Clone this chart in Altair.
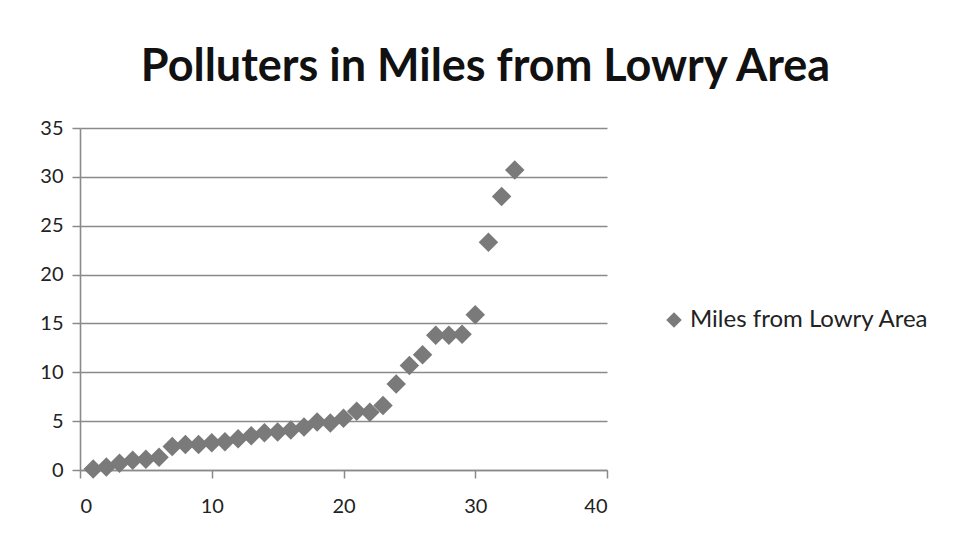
import altair as alt
import pandas as pd

rank = list(range(1, 34))
miles = [0.1, 0.3, 0.7, 1.0, 1.1, 1.3, 2.4, 2.6, 2.6, 2.8, 2.9, 3.2, 3.5, 3.8, 3.9, 4.1,
         4.4, 4.9, 4.8, 5.3, 6.0, 5.9, 6.6, 8.8, 10.7, 11.8, 13.8, 13.8, 13.9, 15.9,
         23.3, 28.0, 30.7]
series = ["Miles from Lowry Area"] * len(rank)
x_ticks = [0, 10, 20, 30, 40]
y_ticks = [0, 5, 10, 15, 20, 25, 30, 35]

df = pd.DataFrame({"x": rank, "y": miles, "series": series})

FONT = "Lato"
GRID = "#8a8a8a"

chart = alt.Chart(df).mark_point(
    shape="diamond", filled=True, size=380, opacity=1
).encode(
    x=alt.X("x:Q", scale=alt.Scale(domain=[0, 40], nice=False, zero=True),
            axis=alt.Axis(values=x_ticks, title=None, grid=False, tickSize=8,
                          labelPadding=18, labelFontSize=20, labelFont=FONT,
                          labelColor="#222", domainColor=GRID, tickColor=GRID,
                          domainWidth=1.5, tickWidth=1.5)),
    y=alt.Y("y:Q", scale=alt.Scale(domain=[0, 35], nice=False),
            axis=alt.Axis(values=y_ticks, title=None, grid=True, gridColor=GRID,
                          gridWidth=1.6, gridOpacity=1, tickSize=8, labelPadding=9,
                          labelFontSize=20, labelFont=FONT, labelColor="#222",
                          domainColor=GRID, tickColor=GRID, domainWidth=1.6,
                          tickWidth=1.5)),
    color=alt.Color("series:N", scale=alt.Scale(range=["#7a7a7a"]),
                    legend=alt.Legend(title=None, orient="none", legendX=582,
                                      legendY=180, symbolType="diamond",
                                      symbolSize=240, labelFontSize=24,
                                      labelLimit=400, labelOffset=4,
                                      labelFont=FONT, labelColor="#222",
                                      symbolOpacity=1)),
).properties(
    width=527,
    height=342,
    title=alt.TitleParams("Polluters in Miles from Lowry Area", font=FONT,
                          fontSize=45, fontWeight="bold", color="#111",
                          anchor="middle", dx=142, offset=28),
    autosize="none",
    padding={"left": 72, "top": 120, "right": 344, "bottom": 51},
).configure_view(stroke=None)

chart.save("out.html", embed_options={"renderer": "svg", "actions": False})
